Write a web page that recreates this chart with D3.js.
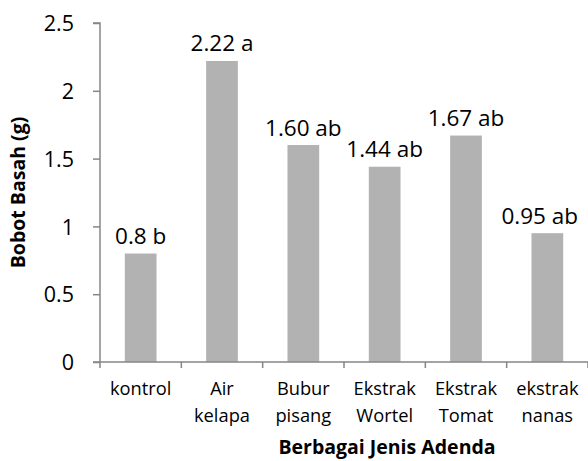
<!DOCTYPE html>
<html>
<head>
<meta charset="utf-8">
<script src="https://cdn.jsdelivr.net/npm/d3@7"></script>
<style>
  html, body { margin: 0; padding: 0; background: #fff; }
  svg { display: block; font-family: "Open Sans", Lato, sans-serif; }
</style>
</head>
<body>
<svg id="chart" width="588" height="461"></svg>
<script>
// ---- data ----
const categories = ["kontrol", "Air kelapa", "Bubur pisang", "Ekstrak Wortel", "Ekstrak Tomat", "ekstrak nanas"];
const values = [0.8, 2.22, 1.60, 1.44, 1.67, 0.95];
const valueLabels = ["0.8 b", "2.22 a", "1.60 ab", "1.44 ab", "1.67 ab", "0.95 ab"];
const yTicks = [0, 0.5, 1, 1.5, 2, 2.5];
const yTickLabels = ["0", "0.5", "1", "1.5", "2", "2.5"];
const yTitle = "Bobot Basah (g)";
const xTitle = "Berbagai Jenis Adenda";

// ---- layout ----
const W = 588, H = 461;
const plot = { left: 100, right: 588, top: 23, bottom: 362 };
const axisColor = "#868686";
const barColor = "#b2b2b2";

const svg = d3.select("#chart");

const x = d3.scaleBand()
  .domain(categories)
  .range([plot.left, plot.right])
  .paddingInner(0.61)
  .paddingOuter(0.305);

const y = d3.scaleLinear()
  .domain([0, 2.5])
  .range([plot.bottom, plot.top]);

// bars
svg.append("g").selectAll("rect")
  .data(categories)
  .join("rect")
  .attr("x", d => x(d))
  .attr("width", x.bandwidth())
  .attr("y", (d, i) => y(values[i]))
  .attr("height", (d, i) => y(0) - y(values[i]))
  .attr("fill", barColor);

// y axis
const yAxis = d3.axisLeft(y)
  .tickValues(yTicks)
  .tickFormat((d, i) => yTickLabels[i])
  .tickSize(7)
  .tickPadding(19);
const gy = svg.append("g")
  .attr("transform", `translate(${plot.left},0)`)
  .call(yAxis);
gy.select(".domain").attr("stroke", axisColor).attr("stroke-width", 1.5)
  .attr("d", `M-7,${plot.top}H0V${plot.bottom}`);
gy.selectAll(".tick line").attr("stroke", axisColor).attr("stroke-width", 1.5);
gy.selectAll(".tick text")
  .attr("fill", "#000")
  .style("font-family", "'Open Sans', sans-serif")
  .style("font-size", "21.5px")
  .attr("dy", "0.36em");

// x axis: line + ticks at band boundaries
const step = x.step();
const boundaries = categories.map(c => x(c) - step * x.paddingInner() / 2)
  .concat([x(categories[categories.length - 1]) + x.bandwidth() + step * x.paddingInner() / 2]);
const gx = svg.append("g");
gx.append("line")
  .attr("x1", plot.left - 7).attr("x2", plot.right)
  .attr("y1", y(0)).attr("y2", y(0))
  .attr("stroke", axisColor).attr("stroke-width", 1.5);
gx.selectAll("line.bt")
  .data(boundaries)
  .join("line")
  .attr("class", "bt")
  .attr("x1", d => d).attr("x2", d => d)
  .attr("y1", y(0)).attr("y2", y(0) + 6)
  .attr("stroke", axisColor).attr("stroke-width", 1.5);

// category labels
const catText = gx.selectAll("text.cat")
  .data(categories)
  .join("text")
  .attr("class", "cat")
  .attr("text-anchor", "middle")
  .attr("fill", "#000")
  .style("font-size", "18.3px");
catText.each(function (d) {
  const t = d3.select(this);
  const cx = x(d) + x.bandwidth() / 2;
  d.split(" ").forEach((w, k) => {
    t.append("tspan")
      .attr("x", cx)
      .attr("y", 395 + k * 26.5)
      .text(w);
  });
});

// value labels
const labels = svg.append("g").selectAll("text")
  .data(categories)
  .join("text")
  .attr("x", d => x(d) + x.bandwidth() / 2)
  .attr("y", (d, i) => y(values[i]) - 9.5)
  .attr("text-anchor", "middle")
  .attr("fill", "#000")
  .style("font-size", "22.5px")
  .text((d, i) => valueLabels[i]);
// keep labels inside the chart area on the right
labels.each(function () {
  const bb = this.getBBox();
  const maxRight = W - 10;
  if (bb.x + bb.width > maxRight) {
    const cx = +d3.select(this).attr("x");
    d3.select(this).attr("x", cx - (bb.x + bb.width - maxRight));
  }
});

// axis titles
svg.append("text")
  .attr("transform", `translate(25,${(plot.top + plot.bottom) / 2}) rotate(-90)`)
  .attr("text-anchor", "middle")
  .attr("fill", "#000")
  .style("font-size", "19.5px")
  .style("font-weight", "bold")
  .text(yTitle);

svg.append("text")
  .attr("x", 387)
  .attr("y", 454)
  .attr("text-anchor", "middle")
  .attr("fill", "#000")
  .style("font-size", "19.5px")
  .style("font-weight", "bold")
  .text(xTitle);
</script>
</body>
</html>
